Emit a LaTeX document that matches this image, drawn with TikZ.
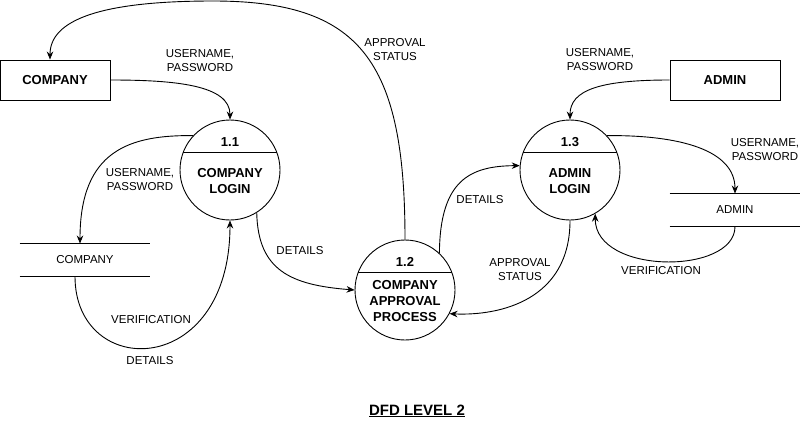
\documentclass[tikz,border=0pt]{standalone}
\usepackage{fontspec}
\setmainfont{Liberation Sans}
\usepackage{tikz}
\usetikzlibrary{arrows.meta}

\begin{document}
\begin{tikzpicture}[x=1pt,y=-1pt,->,>={Stealth[length=8pt,width=6.5pt]},line width=0.9pt]
\tikzstyle{process}=[circle,draw,minimum size=100pt,inner sep=0pt]
\tikzstyle{entity}=[rectangle,draw,minimum width=110pt,minimum height=40pt,font=\bfseries\fontsize{13}{15}\selectfont]
\tikzstyle{store}=[rectangle,minimum width=130pt,minimum height=32pt,font=\fontsize{11.5}{14}\selectfont]
\tikzstyle{ptext}=[align=center,font=\bfseries\fontsize{13}{16}\selectfont]
\tikzstyle{flowlabel}=[align=center,font=\fontsize{11.5}{14}\selectfont]

\useasboundingbox (0,0) rectangle (802,421);

\node[entity]  (CoEnt)   at (55,80)   {COMPANY};
\node[entity]  (AdEnt)   at (725,80)  {ADMIN};
\node[process] (P11)     at (230,170) {};
\node[process] (P12)     at (405,290) {};
\node[process] (P13)     at (570,170) {};
\node[ptext]   (P11num)  at (230,142) {1.1};
\node[ptext]   (P11name) at (230,181) {COMPANY\\LOGIN};
\node[ptext]   (P12num)  at (405,262) {1.2};
\node[ptext]   (P12name) at (405,301) {COMPANY\\APPROVAL\\PROCESS};
\node[ptext]   (P13num)  at (570,142) {1.3};
\node[ptext]   (P13name) at (570,181) {ADMIN\\LOGIN};
\node[store]   (CoStore) at (85,260)  {COMPANY};
\node[store]   (AdStore) at (735,210) {ADMIN};
\coordinate    (apTop)   at (213,1);

% process dividers and store lines
\draw[-] (P11.160) -- (P11.20);
\draw[-] (P12.160) -- (P12.20);
\draw[-] (P13.160) -- (P13.20);
\draw[-] (CoStore.north west) -- (CoStore.north east);
\draw[-] (CoStore.south west) -- (CoStore.south east);
\draw[-] (AdStore.north west) -- (AdStore.north east);
\draw[-] (AdStore.south west) -- (AdStore.south east);

% flows
\draw (CoEnt.east) .. controls (175,80) and (230,85) .. (P11.north);
\draw (P12.north) .. controls (405,60) and (360,1) .. (apTop)
      .. controls (100,1) and (50,20) .. ([xshift=-5pt]CoEnt.north);
\draw (P11.137) .. controls (130,135) and (80,150) .. ([xshift=-5pt]CoStore.north);
\draw ([xshift=-10pt]CoStore.south) .. controls (75,380) and (230,380) .. (P11.south);
\draw (P11.-58) .. controls (258,270) and (290,285) .. (P12.west);
\draw (P12.47) .. controls (440,180) and (470,166) .. (P13.175);
\draw (P13.south) .. controls (570,300) and (500,316) .. (P12.-28);
\draw (AdEnt.west) .. controls (600,80) and (570,90) .. (P13.north);
\draw (P13.43) .. controls (680,135) and (735,150) .. (AdStore.north);
\draw (AdStore.south) .. controls (735,275) and (595,275) .. (P13.-60);

% flow labels
\node[flowlabel] (lblCoUser)   at (200,61)  {USERNAME,\\PASSWORD};
\node[flowlabel] (lblStatus)   at (395,50)  {APPROVAL\\STATUS};
\node[flowlabel] (lblCoStore)  at (140,180) {USERNAME,\\PASSWORD};
\node[flowlabel] (lblDet)      at (300,251) {DETAILS};
\node[flowlabel] (lblCoVer)    at (151,320) {VERIFICATION};
\node[flowlabel] (lblCoDet)    at (150,361) {DETAILS};
\node[flowlabel] (lblAdDet)    at (480,200) {DETAILS};
\node[flowlabel] (lblAdStatus) at (520,270) {APPROVAL\\STATUS};
\node[flowlabel] (lblAdUser)   at (600,60)  {USERNAME,\\PASSWORD};
\node[flowlabel] (lblAdStore)  at (765,150) {USERNAME,\\PASSWORD};
\node[flowlabel] (lblAdVer)    at (661,271) {VERIFICATION};
\node[font=\bfseries\fontsize{15}{18}\selectfont] (title) at (417,411) {\underline{DFD LEVEL 2}};
\end{tikzpicture}
\end{document}
